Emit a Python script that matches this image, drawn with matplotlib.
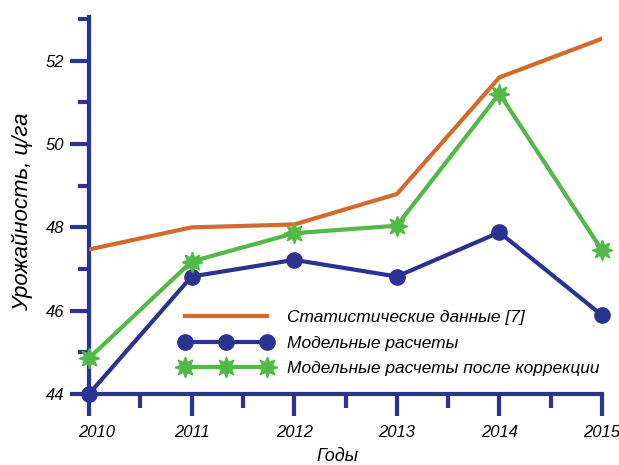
import numpy as np
import matplotlib
matplotlib.use("Agg")
import matplotlib.pyplot as plt
from matplotlib.ticker import MultipleLocator

# --- данные ---
years = [2010, 2011, 2012, 2013, 2014, 2015]
year_labels = ["2010", "2011", "2012", "2013", "2014", "2015"]
stat = [47.47, 48.00, 48.07, 48.80, 51.60, 52.53]        # Статистические данные [7]
model = [44.00, 46.82, 47.22, 46.82, 47.88, 45.89]       # Модельные расчеты
model_corr = [44.86, 47.18, 47.86, 48.04, 51.21, 47.45]  # после коррекции

labels = ["Статистические данные [7]", "Модельные расчеты",
          "Модельные расчеты после коррекции"]

ORANGE, BLUE, GREEN = "#D4692A", "#2B3291", "#52B848"

plt.rcParams["font.family"] = ["Liberation Sans", "DejaVu Sans"]
plt.rcParams["font.style"] = "italic"

fig = plt.figure(figsize=(6.19, 4.65), dpi=100)
ax = fig.add_axes([89 / 619, 1 - 394 / 465, (602 - 89) / 619, (394 - 17) / 465])

ax.plot(years, stat, color=ORANGE, lw=3, label=labels[0], zorder=3)
ax.plot(years, model, color=BLUE, lw=3, marker="o", ms=11, label=labels[1],
        zorder=4, clip_on=False)
ax.plot(years, model_corr, color=GREEN, lw=3, marker=(8, 1, 0), ms=15,
        label=labels[2], zorder=5, clip_on=False)

ax.set_xlim(2010, 2015)
ax.set_ylim(44, 53.05)

# подпись 2010 в оригинале сдвинута вправо от оси — рисуем её отдельно
ax.set_xticks(years, [""] + year_labels[1:])
ax.annotate(year_labels[0], xy=(years[0], 0), xycoords=("data", "axes fraction"),
            xytext=(8, -31), textcoords="offset pixels", ha="center", va="top",
            fontsize=12)
ax.xaxis.set_minor_locator(MultipleLocator(0.5))
ax.yaxis.set_major_locator(MultipleLocator(2))
ax.yaxis.set_minor_locator(MultipleLocator(1))

for s in ["top", "right"]:
    ax.spines[s].set_visible(False)
for s in ["left", "bottom"]:
    ax.spines[s].set_color(BLUE)
    ax.spines[s].set_linewidth(3)

ax.tick_params(axis="both", which="both", color=BLUE, width=3, direction="out",
               labelsize=12)
ax.tick_params(axis="x", which="major", length=16, pad=6)
ax.tick_params(axis="x", which="minor", length=10)
ax.tick_params(axis="y", which="major", length=14, pad=4)
ax.tick_params(axis="y", which="minor", length=8)

ax.set_ylabel("Урожайность, ц/га", fontsize=16)
ax.yaxis.set_label_coords(-0.109, 0.483)
ax.set_xlabel("Годы", fontsize=13)
ax.xaxis.set_label_coords(0.485, -0.143)
ax.xaxis.label.set_va("top")

ax.legend(loc="upper left", bbox_to_anchor=(180 / 619, 1 - 310 / 465),
          bbox_transform=fig.transFigure, frameon=False, fontsize=12.5,
          numpoints=3, handlelength=5.3, handletextpad=0.85, labelspacing=0.6,
          borderpad=0, borderaxespad=0)

fig.savefig("out.png", dpi=100)
